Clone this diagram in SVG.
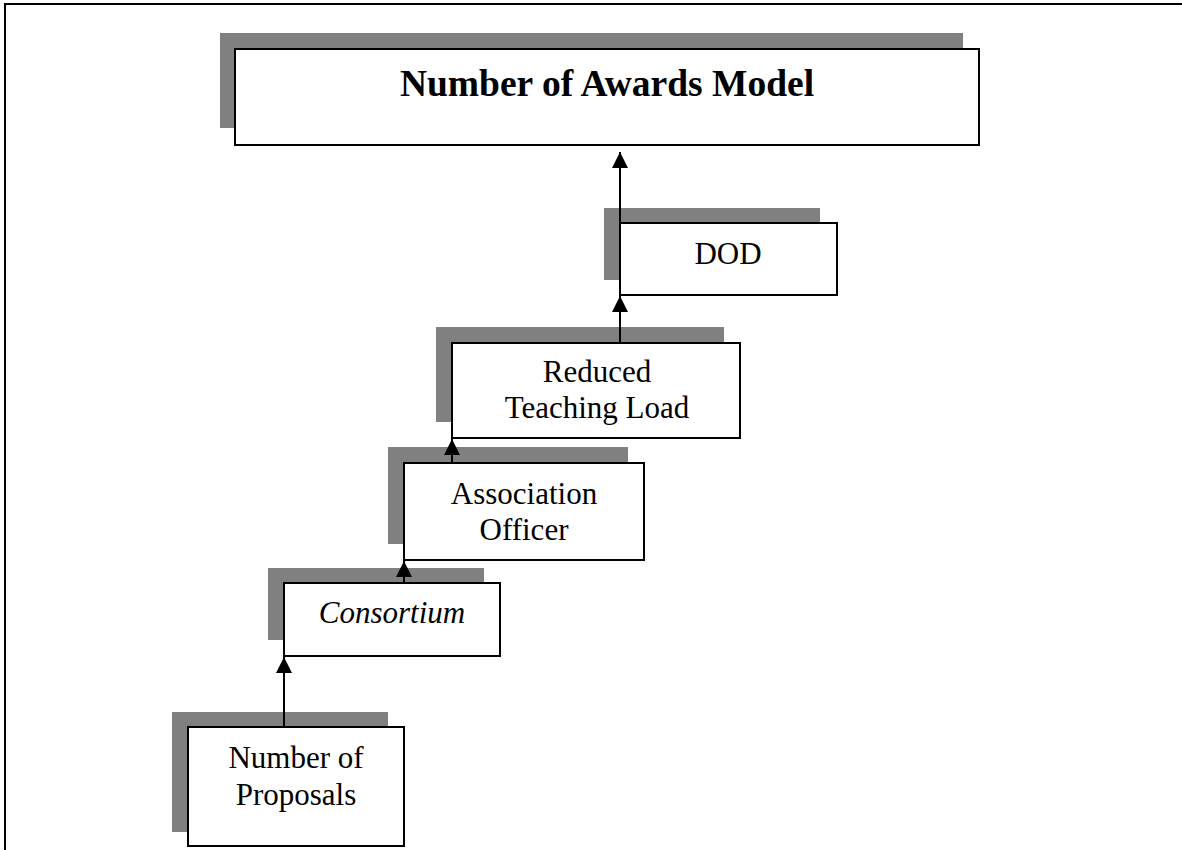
<svg xmlns="http://www.w3.org/2000/svg" width="1182" height="850" viewBox="0 0 1182 850">
<style>
.shadow{fill:#808080;stroke:none}
.box{fill:#ffffff;stroke:#000000;stroke-width:2}
.lbl{font-family:"Liberation Serif","Times New Roman",serif;font-size:31px;fill:#000000;text-anchor:middle}
.title{font-family:"Liberation Serif","Times New Roman",serif;font-size:37.5px;font-weight:bold;fill:#000000;text-anchor:middle}
.conn{stroke:#000000;stroke-width:2;fill:none;marker-end:url(#arrow)}
</style>
<defs>
<marker id="arrow" markerUnits="userSpaceOnUse" markerWidth="17" markerHeight="17" viewBox="0 0 17 17" refX="16" refY="8.5" orient="auto">
<path d="M0,0.5 L16,8.5 L0,16.5 Z" fill="#000000"/>
</marker>
</defs>
<rect width="1182" height="850" fill="#ffffff"/>
<path d="M5,850 V4 H1182" fill="none" stroke="#000000" stroke-width="2"/>

<g id="node-awards">
<rect class="shadow" x="220" y="33" width="743" height="95"/>
<rect class="box" x="235" y="49" width="744" height="96"/>
<text class="title" x="607" y="96">Number of Awards Model</text>
</g>

<g id="node-dod">
<rect class="shadow" x="604" y="208" width="216" height="72"/>
<rect class="box" x="620" y="223" width="217" height="72"/>
<text class="lbl" x="728" y="264">DOD</text>
</g>

<g id="node-reduced">
<rect class="shadow" x="436" y="327" width="288" height="95"/>
<rect class="box" x="452" y="343" width="288" height="95"/>
<text class="lbl" x="597" y="382">Reduced</text>
<text class="lbl" x="597" y="418">Teaching Load</text>
</g>

<g id="node-association">
<rect class="shadow" x="388" y="447" width="240" height="97"/>
<rect class="box" x="404" y="463" width="240" height="97"/>
<text class="lbl" x="524" y="504">Association</text>
<text class="lbl" x="524" y="540">Officer</text>
</g>

<g id="node-consortium">
<rect class="shadow" x="268" y="568" width="216" height="72"/>
<rect class="box" x="284" y="583" width="216" height="73"/>
<text class="lbl" x="392" y="623" font-style="italic">Consortium</text>
</g>

<g id="node-proposals">
<rect class="shadow" x="172" y="712" width="216" height="120"/>
<rect class="box" x="188" y="727" width="216" height="119"/>
<text class="lbl" x="296" y="768">Number of</text>
<text class="lbl" x="296" y="805">Proposals</text>
</g>

<g id="connectors">
<line class="conn" x1="620" y1="295" x2="620" y2="152"/>
<line class="conn" x1="620" y1="343" x2="620" y2="296"/>
<line class="conn" x1="452" y1="463" x2="452" y2="439"/>
<line class="conn" x1="404" y1="583" x2="404" y2="561"/>
<line class="conn" x1="284" y1="727" x2="284" y2="657"/>
</g>
</svg>
